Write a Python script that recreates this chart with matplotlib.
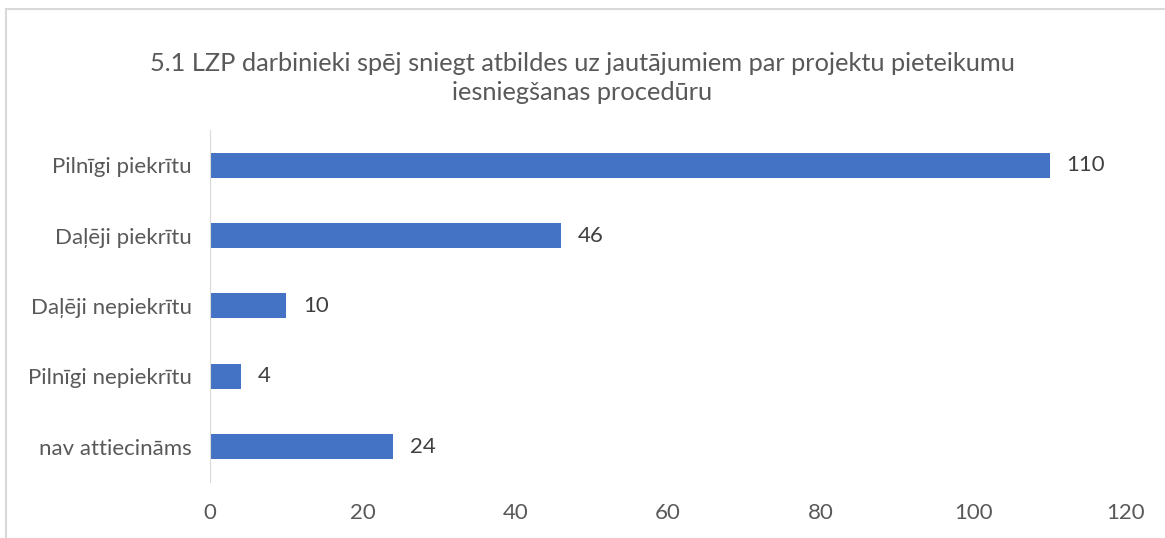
import matplotlib.pyplot as plt
from matplotlib.lines import Line2D

categories = ["Pilnīgi piekrītu", "Daļēji piekrītu", "Daļēji nepiekrītu",
              "Pilnīgi nepiekrītu", "nav attiecināms"]
values = [110, 46, 10, 4, 24]
xticks = [0, 20, 40, 60, 80, 100, 120]
title = ("5.1 LZP darbinieki spēj sniegt atbildes uz jautājumiem par projektu pieteikumu\n"
         "iesniegšanas procedūru")

plt.rcParams['font.family'] = ['Lato', 'DejaVu Sans']
grey = "#595959"

fig = plt.figure(figsize=(11.65, 5.38), dpi=100)
ax = fig.add_axes([0.1803, 0.1041, 0.7862, 0.6543])

ypos = list(range(len(categories)))
ax.barh(ypos, values, height=0.355, color="#4472C4")
for y, v in zip(ypos, values):
    ax.text(v + 2.2, y, str(v), va="center", ha="left", fontsize=16, color="#404040")

ax.set_ylim(len(categories) - 0.5, -0.5)
ax.set_yticks(ypos)
ax.set_yticklabels(categories)
ax.set_xlim(0, 120)
ax.set_xticks(xticks)
ax.tick_params(axis="both", length=0, labelsize=16, labelcolor=grey)
ax.tick_params(axis="x", pad=15)
ax.tick_params(axis="y", pad=13)

for s in ["top", "right", "bottom"]:
    ax.spines[s].set_visible(False)
ax.spines["left"].set_color("#D9D9D9")

fig.text(0.5, 0.855, title, ha="center", va="center", fontsize=18.3,
         color=grey, linespacing=1.35)

# chart frame (top and left edges visible)
fig.add_artist(Line2D([0.0055, 1], [0.984, 0.984], transform=fig.transFigure,
                      color="#D9D9D9", lw=1.5))
fig.add_artist(Line2D([0.0055, 0.0055], [0, 0.984], transform=fig.transFigure,
                      color="#D9D9D9", lw=1.5))

fig.savefig("out.png", dpi=100)
